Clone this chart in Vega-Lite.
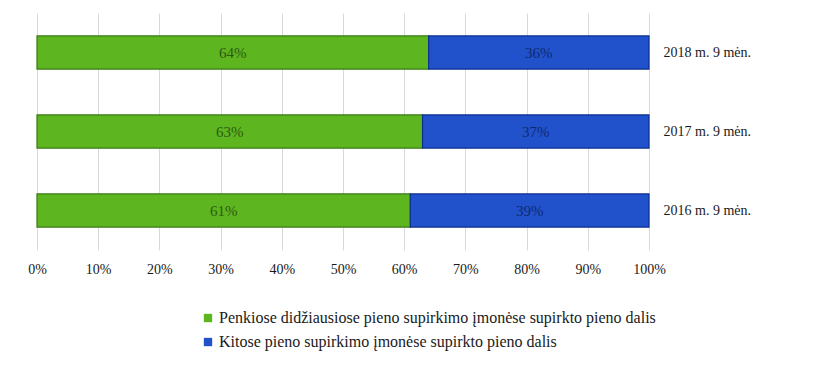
{
  "$schema": "https://vega.github.io/schema/vega-lite/v6.json",
  "autosize": "none",
  "width": 612,
  "height": 237,
  "padding": {"left": 37, "top": 13, "right": 171, "bottom": 119},
  "background": "white",
  "config": {
    "view": {"stroke": null},
    "font": "Liberation Serif",
    "style": {"guide-label": {"font": "Liberation Serif", "fontSize": 14, "fill": "#1a1a1a"}},
    "axis": {"labelFont": "Liberation Serif", "labelFontSize": 14, "labelColor": "#1a1a1a"},
    "legend": {"labelFont": "Liberation Serif", "labelFontSize": 16, "labelColor": "#1a1a1a"}
  },
  "data": {
    "values": [
      {"period": "2018 m. 9 mėn.", "series": "Penkiose didžiausiose pieno supirkimo įmonėse supirkto pieno dalis", "value": 0.64, "ord": 1},
      {"period": "2018 m. 9 mėn.", "series": "Kitose pieno supirkimo įmonėse supirkto pieno dalis", "value": 0.36, "ord": 2},
      {"period": "2017 m. 9 mėn.", "series": "Penkiose didžiausiose pieno supirkimo įmonėse supirkto pieno dalis", "value": 0.63, "ord": 1},
      {"period": "2017 m. 9 mėn.", "series": "Kitose pieno supirkimo įmonėse supirkto pieno dalis", "value": 0.37, "ord": 2},
      {"period": "2016 m. 9 mėn.", "series": "Penkiose didžiausiose pieno supirkimo įmonėse supirkto pieno dalis", "value": 0.61, "ord": 1},
      {"period": "2016 m. 9 mėn.", "series": "Kitose pieno supirkimo įmonėse supirkto pieno dalis", "value": 0.39, "ord": 2}
    ]
  },
  "encoding": {
    "y": {
      "field": "period", "type": "nominal",
      "sort": ["2018 m. 9 mėn.", "2017 m. 9 mėn.", "2016 m. 9 mėn."],
      "scale": {"paddingInner": 0.58, "paddingOuter": 0.29},
      "axis": {"orient": "right", "title": null, "domain": false, "ticks": false, "labelPadding": 14}
    },
    "x": {
      "field": "value", "type": "quantitative", "stack": "zero",
      "scale": {"domain": [0, 1]},
      "axis": {"format": ".0%", "values": [0,0.1,0.2,0.3,0.4,0.5,0.6,0.7,0.8,0.9,1], "labelOverlap": false, "labelFlush": false, "title": null, "domain": false, "ticks": false, "grid": true, "gridColor": "#d9d9d9", "labelPadding": 12}
    },
    "order": {"field": "ord", "type": "quantitative"}
  },
  "layer": [
    {
      "mark": {"type": "bar", "strokeWidth": 1.2},
      "encoding": {
        "color": {
          "field": "series", "type": "nominal",
          "sort": ["Penkiose didžiausiose pieno supirkimo įmonėse supirkto pieno dalis", "Kitose pieno supirkimo įmonėse supirkto pieno dalis"],
          "scale": {"range": ["#5db51f", "#2152cc"]},
          "legend": {
            "orient": "none", "legendX": 163, "legendY": 297, "direction": "vertical",
            "title": null, "symbolType": "square", "symbolSize": 70, "symbolStrokeWidth": 0,
            "labelFont": "Liberation Serif", "labelFontSize": 16,
            "labelLimit": 600, "rowPadding": 8, "labelOffset": 3
          }
        },
        "stroke": {"condition": {"test": "datum.ord == 1", "value": "#3a7a10"}, "value": "#0d2f8f"}
      }
    },
    {
      "mark": {"type": "text", "fontSize": 15, "font": "Liberation Serif"},
      "encoding": {
        "x": {"field": "value", "type": "quantitative", "stack": "zero", "bandPosition": 0.5},
        "text": {"field": "value", "type": "quantitative", "format": ".0%"},
        "color": {"condition": {"test": "datum.ord == 1", "value": "#2f5a12"}, "value": "#0d2a70"}
      }
    }
  ]
}
